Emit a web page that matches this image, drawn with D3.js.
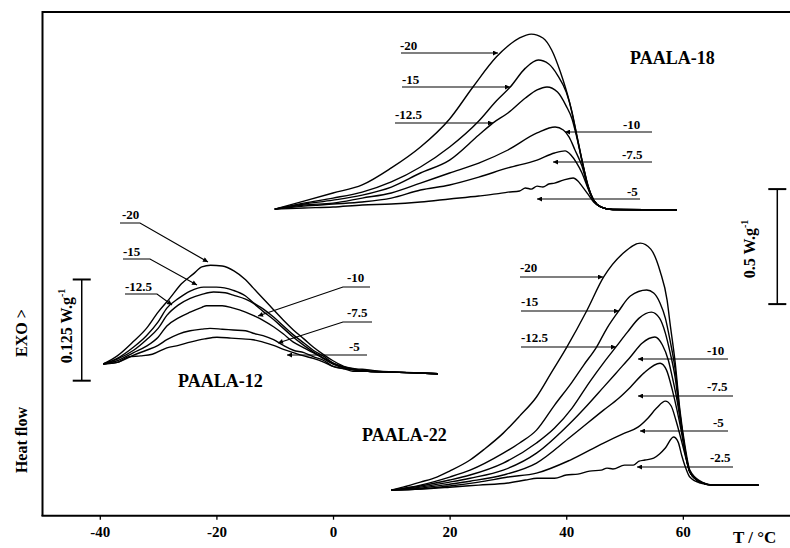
<!DOCTYPE html>
<html>
<head>
<meta charset="utf-8">
<script src="https://cdn.jsdelivr.net/npm/d3@7"></script>
<style>
  body { margin: 0; background: #fff; }
  text { font-family: "Liberation Serif", "Times New Roman", serif; font-weight: bold; fill: #000; }
</style>
</head>
<body>
<script>
// heat flow signals in W/g: [T (°C), signal]

// PAALA-18, cooling to -20 ... -5
var p18_20 = [[-10,0.004],[-5,0.039],[0,0.074],[5,0.109],[10,0.183],[15,0.274],[20,0.396],[24,0.535],[28,0.665],[30,0.713],[32,0.748],[34,0.765],[36,0.748],[37.5,0.696],[39,0.600],[40.6,0.465],[41.8,0.326],[42.7,0.217],[43.7,0.109],[44.7,0.043],[46,0.013],[48,0.002],[52,0],[59,0]];
var p18_15 = [[-10,0.004],[-5,0.030],[0,0.052],[5,0.078],[10,0.122],[15,0.187],[20,0.274],[25,0.387],[28,0.474],[30.4,0.535],[33,0.617],[35.2,0.652],[37,0.635],[38.5,0.587],[40,0.513],[41,0.426],[41.8,0.326],[42.7,0.217],[43.7,0.109],[44.7,0.043],[46,0.013],[48,0.002],[59,0]];
var p18_125 = [[-10,0.004],[-5,0.026],[0,0.043],[5,0.065],[10,0.100],[15,0.161],[20,0.217],[25,0.326],[27.4,0.378],[30,0.422],[33,0.487],[35,0.522],[36.7,0.535],[38.5,0.513],[40,0.452],[41,0.396],[41.8,0.317],[42.7,0.213],[43.7,0.104],[44.7,0.043],[46,0.013],[48,0.002],[59,0]];
var p18_10 = [[-10,0.004],[-5,0.022],[0,0.030],[5,0.052],[10,0.074],[15,0.117],[20,0.161],[25,0.204],[30,0.261],[35,0.335],[38.1,0.361],[39.5,0.348],[40.5,0.317],[41.5,0.261],[42.7,0.191],[43.7,0.100],[44.7,0.043],[46,0.013],[48,0.002],[59,0]];
var p18_75 = [[-10,0.004],[-5,0.017],[0,0.026],[5,0.035],[10,0.052],[15,0.087],[20,0.109],[25,0.143],[30,0.183],[35,0.217],[38,0.248],[39.8,0.257],[40.8,0.239],[41.8,0.204],[42.7,0.161],[43.7,0.096],[44.7,0.039],[46,0.013],[48,0.002],[59,0]];
var p18_5 = [[-10,0.004],[-5,0.009],[0,0.013],[5,0.022],[10,0.026],[15,0.035],[20,0.048],[25,0.061],[28,0.070],[30,0.078],[32,0.083],[33,0.096],[34,0.091],[35,0.104],[36,0.100],[37,0.113],[38,0.117],[39.5,0.130],[41.2,0.139],[42,0.126],[42.7,0.104],[43.7,0.070],[44.7,0.035],[46,0.013],[48,0.002],[59,0]];

// PAALA-22, cooling to -20 ... -2.5
var p22_20 = [[10,-0.009],[12,0.004],[15,0.026],[17.8,0.048],[20,0.074],[23.5,0.122],[26,0.170],[29.2,0.239],[32,0.313],[34.9,0.396],[37.5,0.504],[40.1,0.613],[43.5,0.770],[46.4,0.917],[49.8,1.022],[52.7,1.065],[54.5,1.039],[56.1,0.943],[57.3,0.817],[57.8,0.717],[58.7,0.543],[59.5,0.339],[60.4,0.178],[61.2,0.078],[63,0.030],[65.2,0.013],[73,0.013]];
var p22_15 = [[10,-0.009],[15,0.013],[20,0.048],[23.5,0.078],[29.2,0.152],[32,0.196],[34.9,0.252],[38,0.361],[41,0.461],[43,0.535],[45.2,0.613],[47,0.696],[49,0.770],[51,0.835],[53.8,0.861],[55,0.848],[56.1,0.804],[57,0.739],[57.8,0.643],[58.7,0.513],[59.5,0.326],[60.4,0.165],[61.2,0.070],[63,0.026],[65.2,0.013],[73,0.013]];
var p22_125 = [[10,-0.009],[15,0.009],[20,0.035],[23.5,0.057],[29.2,0.109],[34.9,0.196],[38,0.261],[41,0.348],[44,0.461],[46.5,0.548],[48.5,0.613],[50.5,0.678],[52.5,0.739],[54.6,0.765],[56,0.739],[57,0.674],[57.8,0.591],[58.7,0.478],[59.5,0.317],[60.4,0.161],[61.2,0.070],[63,0.026],[65.2,0.013],[73,0.013]];
var p22_10 = [[10,-0.009],[15,0.004],[20,0.026],[23.5,0.043],[29.2,0.078],[34.9,0.152],[40.7,0.283],[43.5,0.357],[46.4,0.439],[49,0.513],[51,0.570],[53,0.630],[55.2,0.657],[56.5,0.622],[57.5,0.557],[58.3,0.470],[59,0.383],[59.7,0.274],[60.4,0.157],[61.2,0.070],[63,0.026],[65.2,0.013],[73,0.013]];
var p22_75 = [[10,-0.009],[15,0],[20,0.017],[23.5,0.030],[29.2,0.057],[34.9,0.109],[40.7,0.222],[46.4,0.339],[49,0.391],[51,0.439],[53.3,0.500],[56.1,0.543],[57.2,0.513],[58.2,0.426],[59,0.339],[59.7,0.252],[60.4,0.152],[61.2,0.070],[63,0.026],[65.2,0.013],[73,0.013]];
var p22_5 = [[10,-0.009],[15,-0.004],[20,0.009],[25,0.026],[30,0.048],[34.9,0.065],[40.7,0.122],[46.4,0.196],[50,0.239],[52.3,0.265],[54,0.304],[55.5,0.348],[57,0.378],[58,0.357],[58.8,0.296],[59.6,0.222],[60.4,0.143],[61.2,0.070],[63,0.026],[65.2,0.013],[73,0.013]];
var p22_25 = [[10,-0.009],[15,-0.004],[20,0.004],[25,0.013],[30,0.022],[33,0.035],[35,0.043],[38,0.043],[40,0.057],[42,0.061],[44,0.074],[46,0.078],[47,0.087],[48,0.083],[50,0.100],[51.5,0.100],[52.5,0.117],[53.5,0.122],[55,0.130],[56,0.148],[57,0.174],[58.4,0.222],[59.2,0.200],[59.8,0.143],[60.5,0.087],[61.2,0.048],[63,0.022],[65.2,0.013],[73,0.013]];

// PAALA-12, cooling to -20 ... -5
var p12_20 = [[-39.4,0.005],[-37,0.015],[-34.2,0.033],[-32,0.049],[-30,0.069],[-28,0.086],[-26,0.104],[-24,0.116],[-22.5,0.125],[-21,0.127],[-19,0.126],[-17,0.120],[-15,0.109],[-13.7,0.099],[-12,0.086],[-10.2,0.072],[-8.5,0.059],[-6.8,0.047],[-5,0.036],[-3.4,0.026],[-1.5,0.016],[0,0.009],[2.3,0.001],[4,-0.001],[5.8,-0.002],[8,-0.004],[11.5,-0.005],[15,-0.006],[18,-0.007]];
var p12_15 = [[-39.4,0.005],[-37,0.012],[-34.2,0.026],[-32,0.040],[-30,0.057],[-28.5,0.074],[-26.5,0.086],[-24.5,0.095],[-22.2,0.100],[-20,0.100],[-17.1,0.096],[-15,0.089],[-13.7,0.081],[-12,0.073],[-10.2,0.063],[-8.5,0.052],[-6.8,0.041],[-5,0.031],[-3.4,0.022],[-1.5,0.014],[0,0.006],[2,0.001],[3.4,-0.002],[6,-0.004],[10,-0.005],[14,-0.006],[18,-0.007]];
var p12_125 = [[-39.4,0.005],[-37,0.011],[-34.2,0.022],[-32,0.035],[-30,0.049],[-28.5,0.065],[-26.5,0.078],[-24.5,0.086],[-22.5,0.091],[-20.5,0.094],[-18.5,0.093],[-17.1,0.090],[-15,0.085],[-13.7,0.080],[-12,0.070],[-10.2,0.060],[-8.5,0.049],[-6.8,0.038],[-5,0.028],[-3.4,0.020],[-1.5,0.012],[0,0.006],[2,0.001],[3.4,-0.001],[6,-0.004],[10,-0.005],[14,-0.006],[18,-0.007]];
var p12_10 = [[-39.4,0.005],[-37,0.009],[-34.2,0.019],[-32,0.027],[-30,0.038],[-28.5,0.052],[-26.5,0.062],[-24.5,0.069],[-22.5,0.075],[-21.7,0.077],[-19,0.077],[-17.1,0.074],[-15,0.069],[-13.7,0.065],[-12,0.059],[-10.2,0.051],[-8.5,0.042],[-6.8,0.032],[-5,0.025],[-3.4,0.019],[-1.5,0.011],[0,0.005],[2,0],[3.4,-0.002],[6,-0.004],[10,-0.005],[14,-0.006],[18,-0.007]];
var p12_75 = [[-39.4,0.005],[-37,0.007],[-34.2,0.016],[-32,0.022],[-30,0.028],[-28.5,0.035],[-26.5,0.042],[-24.5,0.046],[-22.5,0.048],[-21.1,0.049],[-19,0.048],[-17.1,0.047],[-15,0.046],[-13.7,0.043],[-12,0.040],[-10.2,0.035],[-8.5,0.028],[-6.8,0.022],[-5,0.019],[-3.4,0.014],[-1.5,0.009],[0,0.002],[2,-0.001],[3.4,-0.002],[6,-0.004],[10,-0.005],[14,-0.006],[18,-0.007]];
var p12_5 = [[-39.4,0.005],[-37,0.007],[-35,0.014],[-33,0.015],[-31,0.017],[-28.5,0.025],[-26.5,0.028],[-24.5,0.032],[-22,0.036],[-19.9,0.038],[-17.5,0.037],[-15.5,0.036],[-13.7,0.035],[-12,0.032],[-10.2,0.028],[-8.5,0.023],[-6.8,0.019],[-5,0.015],[-3.4,0.012],[-1.5,0.007],[0,0.002],[2,-0.001],[3.4,-0.004],[6,-0.004],[10,-0.005],[14,-0.006],[18,-0.007]];

var xTicks = [-40, -20, 0, 20, 40, 60];
var groupNames = ["PAALA-18", "PAALA-22", "PAALA-12"];
var rates18 = ["-20", "-15", "-12.5", "-10", "-7.5", "-5"];
var rates22 = ["-20", "-15", "-12.5", "-10", "-7.5", "-5", "-2.5"];
var rates12 = ["-20", "-15", "-12.5", "-10", "-7.5", "-5"];

//chart frame
var width = 790,
    height = 548;

var svg = d3.select("body")
    .append("svg")
    .attr("width", width)
    .attr("height", height);

svg.append("defs").append("marker")
    .attr("id", "arr")
    .attr("viewBox", "0 0 10 10")
    .attr("refX", 10)
    .attr("refY", 5)
    .attr("markerWidth", 8)
    .attr("markerHeight", 5)
    .attr("markerUnits", "userSpaceOnUse")
    .attr("orient", "auto")
    .append("path")
    .attr("d", "M0,0L10,5L0,10z");

var x = d3.scaleLinear().domain([-50, 78.5]).range([41.5, 790.7]);
// display scale, in W/g of the big curves
var y = d3.scaleLinear().domain([0, 2.19]).range([515.7, 12]);

//each group is shifted up; PAALA-12 is also blown up
var groups = [
    {series: [p18_20, p18_15, p18_125, p18_10, p18_75, p18_5], offset: 1.329, mag: 1},
    {series: [p22_20, p22_15, p22_125, p22_10, p22_75, p22_5, p22_25], offset: 0.120, mag: 1},
    {series: [p12_20, p12_15, p12_125, p12_10, p12_75, p12_5], offset: 0.642, mag: 3.52}
];

groups.forEach(function (g) {
    var line = d3.line()
        .x(function (d) { return x(d[0]); })
        .y(function (d) { return y(g.offset + d[1] * g.mag); })
        .curve(d3.curveMonotoneX);
    svg.append("g").selectAll("path")
        .data(g.series)
        .enter()
        .append("path")
        .attr("d", line)
        .attr("fill", "none")
        .attr("stroke", "#000")
        .attr("stroke-width", 1.4);
});

//axes frame
svg.append("line").attr("x1", 42.5).attr("x2", 42.5).attr("y1", 11).attr("y2", 516)
    .attr("stroke", "#000").attr("stroke-width", 2);
svg.append("line").attr("x1", 42).attr("x2", 790).attr("y1", 12).attr("y2", 12)
    .attr("stroke", "#000").attr("stroke-width", 2);

var xAxis = svg.append("g")
    .attr("transform", "translate(0,515.7)")
    .call(d3.axisBottom(x).tickValues(xTicks).tickSize(4).tickPadding(7)
        .tickFormat(function (d) { return d < 0 ? "-" + Math.abs(d) : d; }));
xAxis.select(".domain").attr("stroke-width", 2).attr("d", "M41.5,0H790");
xAxis.selectAll("text").attr("font-size", 15)
    .style("font-family", "'Liberation Serif', serif").style("font-weight", "bold");
xAxis.selectAll(".tick line").attr("stroke-width", 1.3);

svg.append("text").attr("x", 733).attr("y", 543).attr("font-size", 17).text("T / °C");

//left axis title
svg.append("text").attr("transform", "translate(27,333) rotate(-90)")
    .attr("text-anchor", "middle").attr("font-size", 16).text("EXO >");
svg.append("text").attr("transform", "translate(27,440) rotate(-90)")
    .attr("text-anchor", "middle").attr("font-size", 16).text("Heat flow");

//scale bars
function scaleBar(t, v0, dv, label, lx, ly) {
    var bx = x(t), y0 = y(v0), y1 = y(v0 + dv);
    svg.append("line").attr("x1", bx).attr("x2", bx).attr("y1", y0).attr("y2", y1)
        .attr("stroke", "#000").attr("stroke-width", 1.5);
    [y0, y1].forEach(function (yy) {
        svg.append("line").attr("x1", bx - 9).attr("x2", bx + 9).attr("y1", yy).attr("y2", yy)
            .attr("stroke", "#000").attr("stroke-width", 2);
    });
    var t0 = svg.append("text").attr("transform", "translate(" + lx + "," + ly + ") rotate(-90)")
        .attr("text-anchor", "middle").attr("font-size", 16).text(label);
    t0.append("tspan").attr("dy", -7).attr("font-size", 10).text("-1");
}
scaleBar(76.2, 0.920, 0.5, "0.5 W.g", 755, 249);
scaleBar(-43.1, 0.587, 0.125 * 3.52, "0.125 W.g", 72, 326);

//group names
var namePos = [[630, 64], [362, 441], [178, 387]];
groupNames.forEach(function (n, i) {
    svg.append("text").attr("x", namePos[i][0]).attr("y", namePos[i][1])
        .attr("font-size", 18).text(n);
});

//rate labels with leader arrows (pixel layout)
var lab18 = [
    [400, 50, [[401, 53], [498, 53]]],
    [402, 84, [[402, 87], [510, 87]]],
    [395, 119, [[395, 123], [493, 123]]],
    [623, 129, [[652, 132], [565, 132]]],
    [622, 159, [[652, 162], [553, 162]]],
    [627, 196, [[640, 199], [537, 199]]]
];
var lab22 = [
    [520, 272, [[520, 277], [603, 277]]],
    [521, 306, [[521, 311], [619, 311]]],
    [521, 342, [[521, 347], [616, 347]]],
    [707, 355, [[728, 359], [638, 359]]],
    [707, 391, [[733, 396], [638, 396]]],
    [713, 427, [[728, 431], [640, 431]]],
    [710, 462, [[733, 467], [637, 467]]]
];
var lab12 = [
    [122, 219, [[120, 223], [140, 223], [208, 262]]],
    [123, 256, [[123, 259], [150, 259], [197, 285]]],
    [125, 291, [[125, 294], [157, 294], [172, 305]]],
    [347, 282, [[370, 287], [343, 287], [258, 316]]],
    [347, 317, [[372, 322], [343, 322], [278, 343]]],
    [349, 351, [[367, 355], [287, 355]]]
];

function drawLabels(rates, lay) {
    rates.forEach(function (r, i) {
        var l = lay[i];
        svg.append("text").attr("x", l[0]).attr("y", l[1]).attr("font-size", 13).text(r);
        svg.append("path").attr("d", d3.line()(l[2]))
            .attr("fill", "none").attr("stroke", "#000").attr("stroke-width", 1.2)
            .attr("marker-end", "url(#arr)");
    });
}
drawLabels(rates18, lab18);
drawLabels(rates22, lab22);
drawLabels(rates12, lab12);
</script>
</body>
</html>
